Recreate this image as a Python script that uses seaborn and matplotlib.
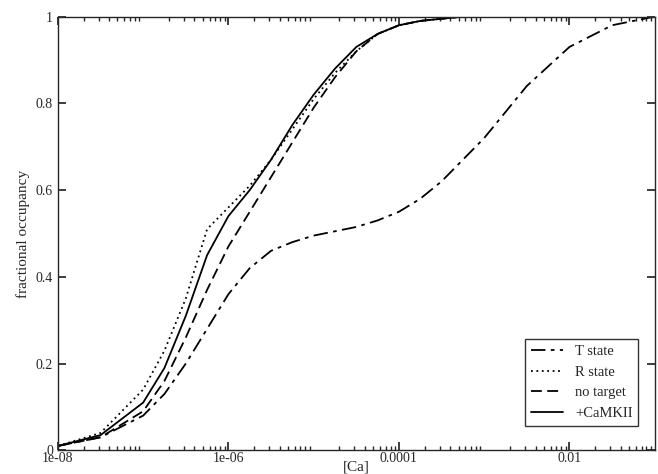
import numpy as np
import matplotlib
matplotlib.use("Agg")
import matplotlib.pyplot as plt
import seaborn as sns
import pandas as pd

log_ca = [-8, -7.5, -7, -6.75, -6.5, -6.25, -6, -5.75, -5.5, -5.25, -5, -4.75, -4.5, -4.25, -4, -3.75, -3.5, -3.25, -3, -2.5, -2, -1.5, -1]
t_state = [0.01, 0.03, 0.08, 0.13, 0.2, 0.28, 0.36, 0.42, 0.46, 0.48, 0.495, 0.505, 0.515, 0.53, 0.55, 0.58, 0.62, 0.67, 0.72, 0.84, 0.93, 0.98, 1.0]
r_state = [0.01, 0.04, 0.14, 0.23, 0.35, 0.51, 0.56, 0.61, 0.67, 0.74, 0.81, 0.87, 0.92, 0.96, 0.98, 0.99, 0.995, 1.0, 1.0, 1.0, 1.0, 1.0, 1.0]
no_target = [0.01, 0.03, 0.09, 0.16, 0.26, 0.37, 0.47, 0.55, 0.63, 0.71, 0.79, 0.86, 0.92, 0.96, 0.98, 0.99, 0.995, 1.0, 1.0, 1.0, 1.0, 1.0, 1.0]
camkii = [0.01, 0.035, 0.11, 0.19, 0.31, 0.45, 0.54, 0.60, 0.67, 0.75, 0.82, 0.88, 0.93, 0.96, 0.98, 0.99, 0.995, 1.0, 1.0, 1.0, 1.0, 1.0, 1.0]

sns.set_theme(style="ticks")
plt.rcParams['font.family'] = ['Liberation Serif', 'DejaVu Serif']

fig, ax = plt.subplots(figsize=(6.58, 4.74), dpi=100)
ca = 10.0 ** np.array(log_ca)
series = [("T state", t_state, (0, (8, 3, 2, 3))), ("R state", r_state, (0, (1, 2))),
          ("no target", no_target, (0, (6, 3))), ("+CaMKII", camkii, "-")]
for name, vals, ls in series:
    df = pd.DataFrame({"x": ca, "y": vals})
    sns.lineplot(data=df, x="x", y="y", ax=ax, color="black", linestyle=ls, lw=1.3, label=name)

ax.set_xscale("log")
ax.set_xlim(1e-8, 0.1)
ax.set_ylim(0, 1)
ax.set_xticks([1e-8, 1e-6, 1e-4, 1e-2])
ax.set_xticklabels(["1e-08", "1e-06", "0.0001", "0.01"])
ax.set_yticks([0, 0.2, 0.4, 0.6, 0.8, 1])
ax.set_yticklabels(["0", "0.2", "0.4", "0.6", "0.8", "1"])
ax.tick_params(which="both", direction="in", top=True, right=True, labelsize=10)
ax.tick_params(axis="x", pad=1)
ax.tick_params(which="major", length=6)
ax.tick_params(which="minor", length=3)
ax.set_xlabel("[Ca]", fontsize=11, labelpad=-3)
ax.set_ylabel("fractional occupancy", fontsize=11)
leg = ax.legend(loc="lower right", bbox_to_anchor=(0.985, 0.04), fontsize=10.5, frameon=True,
                fancybox=False, edgecolor="black", handlelength=2.2)
leg.get_frame().set_linewidth(1.0)
for s in ax.spines.values():
    s.set_linewidth(1.0)
fig.subplots_adjust(left=0.088, right=0.995, top=0.965, bottom=0.05)
fig.savefig("out.png", dpi=100)
